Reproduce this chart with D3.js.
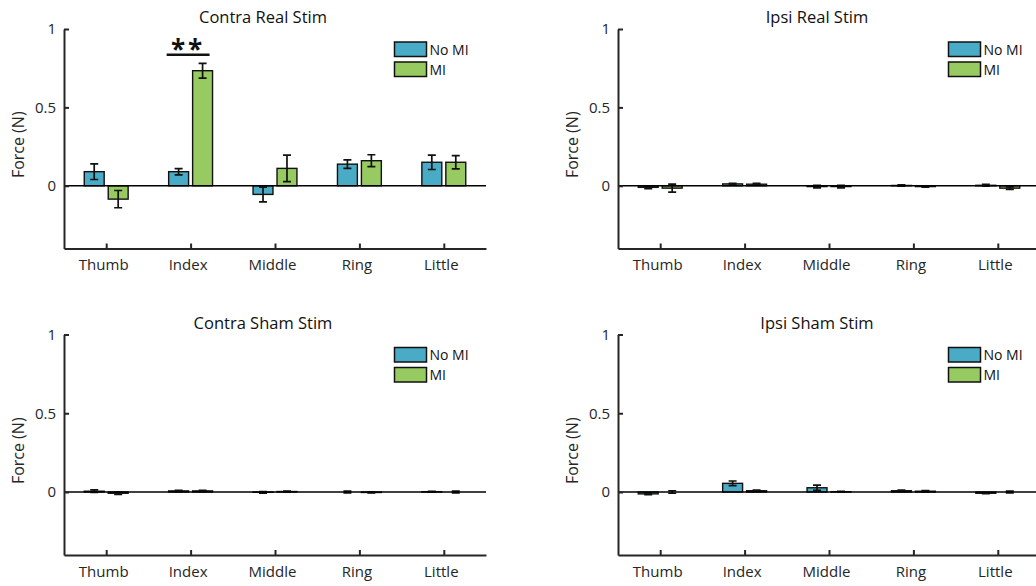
<!DOCTYPE html>
<html><head><meta charset="utf-8">
<script src="https://cdn.jsdelivr.net/npm/d3@7"></script>
<style>
body{margin:0;background:#fff;}
svg{display:block;font-family:"Open Sans","Noto Sans",sans-serif;}
</style></head>
<body><svg id="c" width="1036" height="586"></svg>
<script>
const fingers = ["Thumb","Index","Middle","Ring","Little"];
const seriesNames = ["No MI","MI"];
const yTicks = [0, 0.5, 1];
const panelTitles = ["Contra Real Stim","Ipsi Real Stim","Contra Sham Stim","Ipsi Sham Stim"];

// mean values per panel: [No MI], [MI]
const contraRealNoMI = [0.09, 0.09, -0.055, 0.138, 0.15];
const contraRealMI   = [-0.085, 0.734, 0.111, 0.16, 0.15];
const contraRealNoMIErr = [0.05, 0.02, 0.047, 0.027, 0.046];
const contraRealMIErr   = [0.055, 0.047, 0.084, 0.038, 0.042];

const ipsiRealNoMI = [-0.01, 0.012, -0.005, 0.002, 0.003];
const ipsiRealMI   = [-0.015, 0.01, -0.005, -0.005, -0.015];
const ipsiRealNoMIErr = [0.008, 0.004, 0.008, 0.004, 0.006];
const ipsiRealMIErr   = [0.025, 0.005, 0.008, 0.004, 0.008];

const contraShamNoMI = [0.005, 0.007, -0.002, 0.0, 0.002];
const contraShamMI   = [-0.008, 0.007, 0.003, -0.003, 0.0];
const contraShamNoMIErr = [0.008, 0.003, 0.005, 0.005, 0.002];
const contraShamMIErr   = [0.008, 0.003, 0.002, 0.002, 0.005];

const ipsiShamNoMI = [-0.012, 0.055, 0.027, 0.008, -0.008];
const ipsiShamMI   = [0.0, 0.008, 0.002, 0.005, 0.0];
const ipsiShamNoMIErr = [0.005, 0.015, 0.017, 0.004, 0.003];
const ipsiShamMIErr   = [0.008, 0.004, 0.002, 0.004, 0.005];

const panels = [
  {title: panelTitles[0], means:[contraRealNoMI, contraRealMI], errs:[contraRealNoMIErr, contraRealMIErr], x0:64, top:29, bottom:248.5, sig:true},
  {title: panelTitles[1], means:[ipsiRealNoMI, ipsiRealMI], errs:[ipsiRealNoMIErr, ipsiRealMIErr], x0:618, top:29, bottom:248.5},
  {title: panelTitles[2], means:[contraShamNoMI, contraShamMI], errs:[contraShamNoMIErr, contraShamMIErr], x0:64, top:334.5, bottom:555},
  {title: panelTitles[3], means:[ipsiShamNoMI, ipsiShamMI], errs:[ipsiShamNoMIErr, ipsiShamMIErr], x0:618, top:334.5, bottom:555}
];

const colors = ["#4aabc6", "#98ca62"];
const axisCol = "#262626";
const svg = d3.select("#c");
const W = 422; // axis width
const barW = 0.236, off = 0.142;

panels.forEach(p => {
  const g = svg.append("g");
  const x = d3.scaleLinear().domain([0.5, 5.5]).range([p.x0, p.x0 + W]);
  const y = d3.scaleLinear().domain([-0.4, 1]).range([p.bottom, p.top]);

  // bars
  p.means.forEach((arr, s) => {
    arr.forEach((v, i) => {
      const cx = x(i + 1) + (s === 0 ? -1 : 1) * (x(off) - x(0));
      const bw = x(barW) - x(0);
      g.append("rect")
        .attr("x", cx - bw/2)
        .attr("y", y(Math.max(v, 0)))
        .attr("width", bw)
        .attr("height", Math.abs(y(v) - y(0)))
        .attr("fill", colors[s])
        .attr("stroke", "#111").attr("stroke-width", 1.4);
      const e = p.errs[s][i];
      const capW = 4;
      g.append("path")
        .attr("d", `M${cx},${y(v+e)}V${y(v-e)}M${cx-capW},${y(v+e)}H${cx+capW}M${cx-capW},${y(v-e)}H${cx+capW}`)
        .attr("stroke", "#111").attr("stroke-width", 1.7).attr("fill", "none");
    });
  });

  // zero line
  g.append("line").attr("x1", x(0.5)).attr("x2", x(5.5)).attr("y1", y(0)).attr("y2", y(0))
    .attr("stroke", "#000").attr("stroke-width", 1.6);

  // y axis
  const yAx = g.append("g").attr("transform", `translate(${p.x0},0)`)
    .call(d3.axisLeft(y).tickValues(yTicks).tickSizeInner(-5).tickSizeOuter(0).tickPadding(8).tickFormat(d => d === 0 ? "0" : (d === 1 ? "1" : "0.5")));
  yAx.select(".domain").attr("stroke", axisCol).attr("stroke-width", 2);
  yAx.selectAll(".tick line").attr("stroke", axisCol).attr("stroke-width", 2);
  yAx.selectAll(".tick text").attr("fill", "#262626").style("font-size", "15px").attr("font-family", '"Open Sans", sans-serif');

  // x axis
  const xAx = g.append("g").attr("transform", `translate(0,${p.bottom})`)
    .call(d3.axisBottom(x).tickValues([1,2,3,4,5]).tickSizeInner(-5).tickSizeOuter(0).tickPadding(11).tickFormat((d,i) => fingers[i]));
  xAx.select(".domain").attr("stroke", axisCol).attr("stroke-width", 2);
  xAx.selectAll(".tick line").attr("stroke", axisCol).attr("stroke-width", 2);
  xAx.selectAll(".tick text").attr("fill", "#262626").style("font-size", "15px").attr("font-family", '"Open Sans", sans-serif').attr("dx", -3);

  // y label
  const yMid = (p.top + p.bottom) / 2 + 6;
  g.append("text").attr("transform", `translate(${p.x0 - 40},${yMid}) rotate(-90)`)
    .attr("text-anchor", "middle").attr("fill", "#262626").style("font-size", "16px").text("Force (N)");

  // title
  g.append("text").attr("x", p.x0 + W/2 - 12).attr("y", p.top - 6)
    .attr("text-anchor", "middle").attr("fill", "#111").style("font-size", "16.5px").text(p.title);

  // legend
  const lx = x(5.5) - 91.5, ly = p.top + 13;
  seriesNames.forEach((n, s) => {
    g.append("rect").attr("x", lx).attr("y", ly + s*20).attr("width", 32).attr("height", 14.5)
      .attr("fill", colors[s]).attr("stroke", "#111").attr("stroke-width", 1.5);
    g.append("text").attr("x", lx + 35).attr("y", ly + s*20 + 12.5)
      .attr("fill", "#111").style("font-size", "14px").text(n);
  });

  // significance
  if (p.sig) {
    const sx1 = x(2) - (x(off) - x(0)) - (x(barW) - x(0))/2 - 2;
    const sx2 = x(2) + (x(off) - x(0)) + (x(barW) - x(0))/2 - 3;
    g.append("line").attr("x1", sx1).attr("x2", sx2).attr("y1", y(0.835)).attr("y2", y(0.835))
      .attr("stroke", "#111").attr("stroke-width", 2.5);
    g.append("text").attr("x", (sx1 + sx2)/2).attr("y", y(0.835) + 4)
      .attr("text-anchor", "middle").attr("fill", "#111").style("font-size", "26px").style("font-weight", "bold")
      .attr("letter-spacing", "3px").text("**");
  }
});
</script></body></html>
